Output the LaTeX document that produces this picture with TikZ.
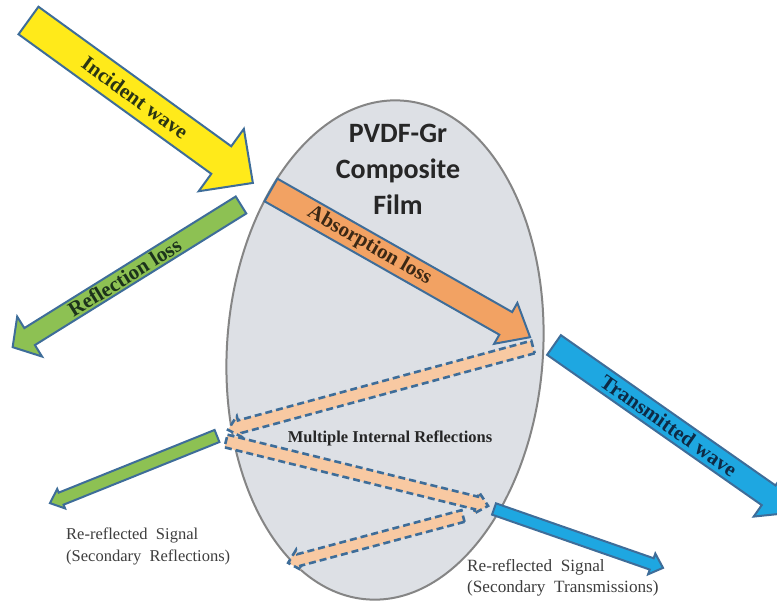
\documentclass[tikz,border=0pt]{standalone}
\usepackage{fontspec}
\setmainfont{Liberation Serif}
\newfontfamily\carlito{Carlito}
\usetikzlibrary{calc}
\definecolor{bordblue}{HTML}{3E6D99}
\definecolor{yelfill}{HTML}{FFEA1A}
\definecolor{grnfill}{HTML}{8DC153}
\definecolor{orgfill}{HTML}{F2A263}
\definecolor{peach}{HTML}{F8C9A2}
\definecolor{bluefill}{HTML}{1EA7E1}
\definecolor{filmfill}{HTML}{DDE0E5}
\definecolor{filmedge}{HTML}{858585}
\definecolor{inctext}{HTML}{2A3514}
\definecolor{abstext}{HTML}{3B2815}
\definecolor{reftext}{HTML}{1C331C}
\definecolor{tratext}{HTML}{0E2A45}
\definecolor{graytext}{HTML}{3E3E3E}
\tikzset{
  bord/.style={draw=bordblue, line width=2pt, line join=miter},
  dasharrow/.style={draw=bordblue, line width=2.6pt, dash pattern=on 7pt off 4pt, fill=peach, line join=miter},
  arrowlbl/.style={inner sep=0pt, font=\bfseries\fontsize{21}{24}\selectfont},
  film/.style={draw=filmedge, line width=2pt, fill=filmfill},
}
% #1 name, #2 tail, #3 angle, #4 length, #5 shaft width, #6 head width, #7 head length, #8 style
\newcommand\blockarrow[8]{%
  \begin{scope}[shift={#2}, rotate=#3]
    \draw[#8] (0,{-#5/2}) -- ({#4-#7},{-#5/2}) -- ({#4-#7},{-#6/2}) -- (#4,0)
      -- ({#4-#7},{#6/2}) -- ({#4-#7},{#5/2}) -- (0,{#5/2}) -- cycle;
    \coordinate (#1-tail) at (0,0);
    \coordinate (#1-tip) at (#4,0);
  \end{scope}}
\begin{document}
\begin{tikzpicture}[x=1pt, y=-1pt]
\useasboundingbox (0,0) rectangle (777,603);
\clip (0,0) rectangle (777,603);
\fill[white] (0,0) rectangle (777,603);

% film
\draw[film, rotate around={-4:(385,350)}] (385,350) ellipse [x radius=158, y radius=250];

% main arrows
\blockarrow{inc}{(28.5,20.5)}{-35.9}{277}{34}{77}{39}{bord, fill=yelfill}
\blockarrow{refl}{(241,205)}{-148.1}{269}{20}{47}{20}{bord, fill=grnfill}
\blockarrow{abs}{(271,190)}{-29.6}{298}{26}{47}{28}{bord, fill=orgfill}
\blockarrow{trans}{(554,345)}{-35}{292}{24}{52}{30}{bord, fill=bluefill}

% internal reflections
\blockarrow{mir1}{(533,347)}{-164.8}{316}{13}{22}{12}{dasharrow}
\blockarrow{mir2}{(226,441)}{-13.9}{270}{13}{22}{12}{dasharrow}
\blockarrow{mir3}{(463,516)}{-165}{181}{12}{21}{11}{dasharrow}

% secondary arrows
\blockarrow{sref}{(217,436)}{-158.1}{180}{13}{21}{12}{bord, fill=grnfill}
\blockarrow{stra}{(494,509)}{-19.2}{179}{12}{22}{12}{bord, fill=bluefill}

% labels
\node[arrowlbl, text=inctext, rotate=-35.9] (inclbl) at ($(inc-tail)!0.475!(inc-tip)$) {Incident wave};
\node[arrowlbl, text=reftext, rotate=31.9] (refllbl) at ($(refl-tail)!0.51!(refl-tip)$) {Reflection loss};
\node[arrowlbl, text=abstext, rotate=-29.6] (abslbl) at ($(abs-tail)!0.38!(abs-tip)$) {Absorption loss};
\node[arrowlbl, text=tratext, rotate=-35] (tralbl) at ($(trans-tail)!0.48!(trans-tip)$) {Transmitted wave};

\node[text=black!85, align=center, font=\carlito\bfseries\fontsize{28}{36}\selectfont] (filmlbl) at (398,169) {PVDF-Gr\\Composite\\Film};
\node[text=black!85, font=\bfseries\fontsize{16.5}{20}\selectfont] (mirlbl) at (390,438) {Multiple Internal Reflections};
\node[text=graytext, anchor=west, align=left, inner sep=0pt, font=\fontsize{16.5}{22}\selectfont] (sreflbl) at (66,546) {Re-reflected~ Signal\\(Secondary~ Reflections)};
\node[text=graytext, anchor=west, align=left, inner sep=0pt, font=\fontsize{17.2}{20.5}\selectfont] (stralbl) at (467,578) {Re-reflected~ Signal\\(Secondary~ Transmissions)};
\end{tikzpicture}
\end{document}
